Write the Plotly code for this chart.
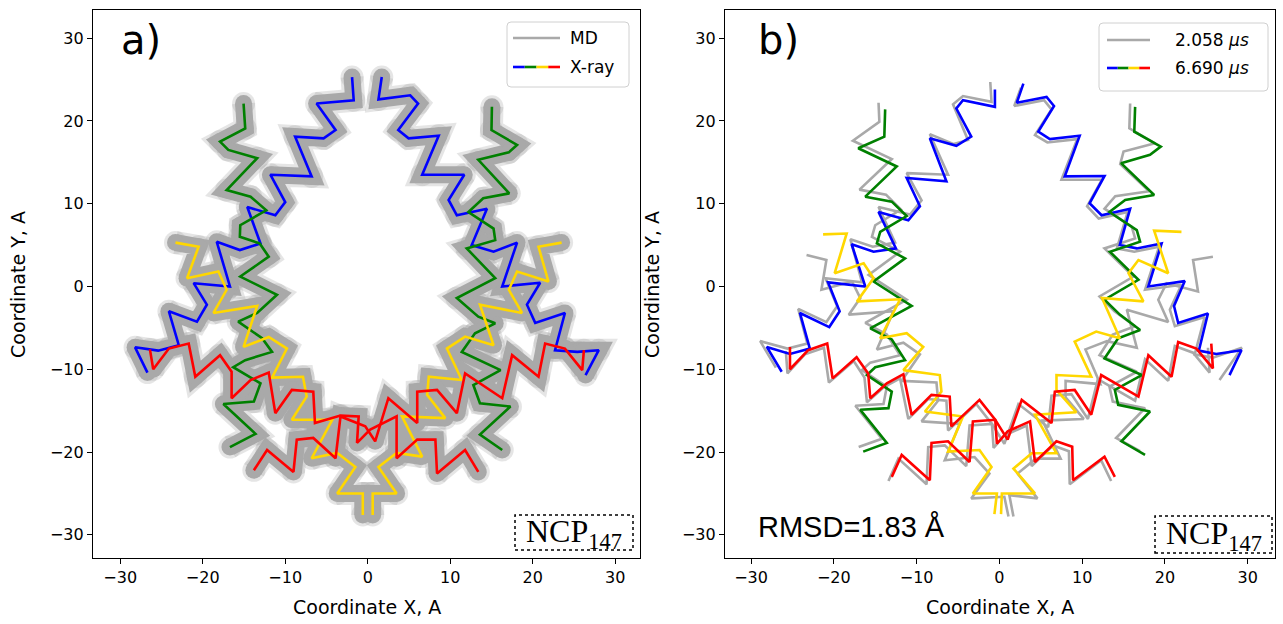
import plotly.graph_objects as go

# ---------------- panel a: X-ray structure (Angstrom) ----------------
xray_blue_L_x = [-1.9, -1.7, -6.2, -3.9, -5.35, -8.8, -6.8, -11.8, -10.0, -11.2, -14.6, -13.0, -15.5, -18.3, -16.7, -21.1, -19.5, -20.7, -24.1, -22.9, -25.4, -28.2, -26.7]
xray_blue_L_y = [25.3, 22.5, 22.1, 18.9, 17.9, 18.1, 13.3, 13.5, 10.2, 8.6, 9.6, 5.2, 4.4, 5.4, 0.0, 0.4, -2.2, -4.25, -3.0, -7.1, -7.75, -7.35, -10.4]
xray_blue_R_x = [1.7, 1.3, 5.15, 6.1, 3.7, 4.95, 8.6, 6.6, 11.7, 9.8, 10.8, 14.45, 12.6, 15.25, 18.1, 16.3, 20.9, 19.3, 20.3, 23.9, 22.7, 25.4, 28.0, 26.4]
xray_blue_R_y = [25.3, 22.6, 23.1, 22.1, 18.9, 17.9, 18.2, 13.5, 13.5, 10.45, 8.6, 9.4, 5.0, 4.2, 5.3, 0.0, 0.45, -2.2, -4.4, -3.2, -7.7, -7.9, -7.7, -10.7]
xray_green_L_x = [-15.05, -14.85, -17.9, -16.9, -13.4, -17.1, -14.2, -12.3, -15.45, -15.5, -13.1, -12.0, -15.45, -11.0, -13.4, -15.7, -12.8, -11.6, -14.85, -16.3, -13.0, -13.8, -17.5, -13.6, -16.7]
xray_green_L_y = [22.1, 19.1, 17.5, 16.5, 15.5, 11.65, 10.85, 9.2, 7.4, 6.0, 5.2, 3.6, 1.2, -1.0, -3.2, -4.25, -6.25, -7.9, -8.9, -9.75, -11.7, -13.9, -14.2, -17.8, -19.4]
xray_green_R_x = [15.05, 15.0, 18.1, 17.1, 13.4, 17.15, 14.0, 12.2, 15.25, 15.45, 12.0, 15.45, 10.8, 13.4, 15.45, 13.0, 11.4, 16.1, 12.8, 13.6, 17.3, 13.6, 16.3]
xray_green_R_y = [21.7, 18.9, 17.1, 16.2, 15.3, 11.25, 10.65, 9.0, 7.0, 5.6, 4.6, 1.0, -1.4, -3.65, -4.45, -5.65, -7.9, -10.1, -11.9, -14.1, -14.5, -17.9, -19.75]
xray_yellow_L_x = [-23.3, -20.5, -21.9, -18.1, -17.1, -18.7, -13.4, -15.05, -12.0, -9.8, -11.6, -7.85, -7.4, -9.2, -4.3, -6.8, -3.7, -1.5, -3.7, -0.6, -0.6]
xray_yellow_L_y = [5.3, 4.8, 1.0, 1.8, -0.4, -3.2, -2.35, -7.3, -6.1, -7.5, -11.0, -10.9, -13.3, -16.1, -16.1, -20.75, -20.1, -21.8, -25.0, -25.0, -27.6]
xray_yellow_R_x = [23.5, 20.7, 21.9, 18.1, 17.1, 18.7, 13.6, 15.25, 11.8, 9.6, 11.4, 7.4, 7.2, 9.4, 4.15, 6.6, 3.5, 1.3, 3.5, 0.6, 0.6]
xray_yellow_R_y = [5.3, 4.8, 0.6, 1.8, -0.4, -3.2, -2.2, -7.1, -6.05, -7.5, -11.3, -10.9, -13.1, -15.9, -15.7, -20.55, -20.1, -21.8, -25.0, -25.0, -27.6]
xray_red_1_x = [-26.4, -26.0, -24.1, -21.7, -20.9, -17.9, -16.5, -16.5, -14.2, -12.0, -11.2, -9.2, -6.6, -6.4, -3.3, -1.1, -1.3, 0.3, 3.5, 3.5, 6.0, 8.2, 8.4, 11.8, 13.4]
xray_red_1_y = [-7.6, -10.0, -7.5, -6.9, -10.9, -8.3, -10.3, -13.5, -11.3, -10.4, -15.3, -12.5, -12.7, -16.5, -15.6, -15.7, -18.9, -17.3, -15.7, -20.75, -18.5, -18.5, -22.6, -19.75, -22.4]
xray_red_2_x = [-13.8, -12.2, -9.0, -8.6, -6.6, -3.9, -3.3, -0.3, 0.9, 2.5, 6.0, 6.0, 8.4, 10.8, 11.8, 16.3, 17.5, 20.7, 21.5, 23.9, 26.0, 26.2]
xray_red_2_y = [-22.2, -19.75, -22.4, -18.5, -18.3, -20.75, -15.7, -16.9, -18.7, -13.5, -16.5, -12.7, -12.5, -15.3, -10.5, -13.5, -8.3, -10.9, -6.9, -7.5, -10.1, -7.7]

# ---------------- panel b: MD snapshot at 6.690 us (coloured) ----------------
md6_blue_L_x = [-0.54, -0.54, -4.4, -5.2, -3.4, -5.2, -8.4, -6.4, -11.2, -9.6, -11.0, -14.6, -12.5, -15.2, -17.85, -16.2, -20.7, -19.3, -20.55, -24.1, -22.9, -25.3, -28.1, -26.3]
md6_blue_L_y = [23.8, 21.7, 22.5, 21.5, 18.1, 17.0, 17.9, 12.7, 13.1, 9.7, 8.0, 9.0, 4.6, 4.2, 5.1, 0.0, 0.5, -3.0, -4.9, -3.2, -7.5, -8.15, -7.3, -10.3]
md6_blue_R_x = [2.9, 2.1, 5.7, 6.6, 4.7, 6.1, 9.7, 7.9, 12.7, 10.9, 12.35, 15.8, 14.55, 16.6, 19.6, 18.0, 22.4, 21.1, 21.6, 25.2, 24.1, 26.2, 29.25, 27.8]
md6_blue_R_y = [24.5, 22.2, 22.9, 21.8, 18.7, 17.8, 18.2, 13.3, 13.35, 10.05, 8.6, 9.4, 5.0, 4.6, 5.2, 0.0, 0.65, -2.35, -4.4, -3.25, -7.75, -8.15, -7.7, -10.7]
md6_green_L_x = [-13.8, -13.9, -17.05, -12.4, -16.2, -13.0, -11.2, -14.4, -14.8, -11.4, -15.2, -10.6, -15.6, -13.0, -11.4, -15.0, -16.0, -13.0, -13.4, -16.8, -13.6, -16.45]
md6_green_L_y = [21.4, 18.1, 16.7, 14.5, 10.85, 10.25, 8.5, 6.6, 5.2, 3.4, 0.6, -2.35, -5.05, -6.4, -8.9, -9.75, -10.7, -12.7, -14.7, -14.9, -18.9, -19.95]
md6_green_R_x = [16.4, 16.3, 19.5, 18.2, 14.7, 18.7, 15.2, 13.3, 16.6, 17.0, 13.35, 16.8, 12.7, 14.55, 17.0, 14.35, 12.7, 17.2, 13.95, 14.35, 18.2, 14.75, 17.6]
md6_green_R_y = [21.7, 18.7, 16.9, 15.9, 14.9, 11.05, 10.45, 9.0, 6.8, 5.4, 4.2, 0.8, -1.6, -3.4, -5.25, -6.25, -8.7, -10.7, -12.5, -14.3, -15.1, -18.7, -20.35]
md6_yellow_L_x = [-21.3, -18.45, -19.9, -16.4, -15.2, -17.2, -12.0, -14.4, -11.2, -9.2, -11.6, -7.2, -7.0, -9.0, -4.4, -6.2, -2.4, -0.95, -3.2, -0.3, -0.6]
md6_yellow_L_y = [6.3, 6.4, 1.6, 2.8, 1.0, -1.8, -1.55, -6.25, -5.65, -7.3, -10.1, -10.7, -12.7, -15.1, -15.7, -19.95, -19.75, -21.8, -25.0, -25.0, -27.5]
md6_yellow_R_x = [22.0, 18.7, 20.4, 16.8, 15.6, 17.4, 12.4, 14.55, 11.7, 9.1, 11.1, 6.9, 6.9, 9.3, 4.3, 6.9, 3.9, 1.7, 4.3, 0.3, 0.2]
md6_yellow_R_y = [6.6, 6.75, 1.6, 3.2, 1.6, -1.8, -1.4, -6.25, -5.45, -6.65, -10.9, -10.7, -12.5, -15.2, -15.5, -20.15, -20.15, -22.0, -25.0, -25.0, -27.5]
md6_red_1_x = [-25.3, -25.3, -23.1, -20.8, -20.15, -17.25, -15.85, -15.6, -13.6, -11.6, -10.6, -8.2, -6.0, -5.8, -2.4, -0.5, -0.3, 1.0, 3.7, 4.3, 6.9, 8.8, 8.9, 12.7, 13.95]
md6_red_1_y = [-7.3, -10.0, -7.7, -6.9, -11.1, -8.55, -10.5, -13.5, -11.7, -10.6, -15.5, -13.1, -13.3, -16.9, -13.7, -16.1, -19.0, -17.5, -16.3, -21.2, -18.7, -19.35, -23.4, -20.55, -23.0]
md6_red_2_x = [-13.0, -11.8, -8.4, -8.2, -6.2, -3.6, -3.2, -0.5, 1.0, 2.7, 6.3, 6.7, 9.1, 11.1, 12.3, 16.8, 18.0, 20.8, 21.6, 23.8, 25.8, 25.6]
md6_red_2_y = [-23.0, -20.35, -23.4, -18.9, -18.7, -21.2, -16.3, -16.1, -18.5, -13.7, -16.5, -12.7, -12.5, -15.5, -10.7, -13.3, -8.3, -10.9, -6.7, -7.5, -9.9, -6.9]

# ---------------- panel b: MD snapshot at 2.058 us (grey) ----------------
md2_blue_L_x = [-1.1, -0.95, -4.4, -5.6, -3.8, -5.5, -8.4, -6.2, -11.2, -9.4, -10.8, -14.6, -12.6, -15.3, -18.0, -16.6, -21.0, -19.6, -20.9, -24.3, -23.2, -25.6, -28.9, -27.0]
md2_blue_L_y = [24.7, 22.3, 23.0, 22.0, 17.7, 17.2, 18.4, 13.5, 13.7, 10.4, 8.7, 9.6, 5.3, 4.8, 5.7, 0.5, 1.0, -2.4, -4.3, -2.7, -6.9, -7.5, -6.6, -9.8]
md2_blue_R_x = [2.6, 1.8, 5.4, 6.3, 4.3, 5.8, 9.4, 7.5, 12.4, 10.6, 12.0, 15.5, 14.2, 16.3, 19.3, 17.6, 22.0, 20.6, 21.2, 24.8, 23.6, 25.8, 29.3, 26.6]
md2_blue_R_y = [24.0, 21.8, 22.5, 21.4, 18.3, 17.4, 17.8, 12.9, 12.9, 9.7, 8.2, 9.0, 4.6, 4.2, 4.8, -0.4, 0.2, -2.8, -4.8, -3.7, -8.2, -8.6, -7.4, -11.3]
md2_green_L_x = [-14.6, -14.5, -17.7, -13.0, -16.9, -13.7, -11.9, -15.0, -15.4, -12.0, -15.8, -11.2, -16.2, -13.6, -12.0, -15.6, -16.6, -13.6, -14.0, -17.4, -14.2, -17.0]
md2_green_L_y = [22.2, 19.9, 17.6, 15.4, 11.7, 11.1, 9.3, 7.4, 6.0, 4.2, 1.4, -1.6, -4.4, -5.8, -8.3, -9.2, -10.1, -12.1, -14.2, -14.4, -18.4, -19.4]
md2_green_R_x = [15.8, 15.7, 18.8, 15.0, 14.6, 18.1, 14.0, 12.7, 16.0, 16.4, 12.7, 16.2, 12.1, 13.9, 16.4, 13.7, 12.1, 16.6, 13.3, 13.7, 17.6, 14.1, 17.0]
md2_green_R_y = [22.1, 19.1, 17.3, 16.3, 14.8, 11.5, 10.9, 9.4, 7.2, 5.8, 4.6, 1.2, -1.2, -3.0, -4.8, -5.8, -8.3, -10.3, -12.1, -13.9, -14.7, -18.3, -19.9]
md2_yellow_L_x = [-23.3, -20.9, -21.5, -17.8, -16.8, -18.2, -12.8, -14.8, -11.6, -9.6, -11.8, -7.6, -7.4, -9.4, -4.8, -6.6, -3.0, -1.2, -3.4, 0.6, 1.1]
md2_yellow_L_y = [3.8, 3.2, -0.4, 0.6, -1.4, -3.4, -3.0, -7.6, -6.8, -8.2, -11.4, -11.6, -13.8, -16.3, -16.6, -21.0, -20.6, -22.6, -25.6, -25.4, -27.8]
md2_yellow_R_x = [25.8, 23.4, 24.0, 20.2, 19.2, 20.4, 15.4, 16.6, 13.0, 10.4, 12.2, 8.0, 8.0, 10.2, 5.2, 7.4, 4.4, 2.2, 4.6, 1.2, 1.7]
md2_yellow_R_y = [3.6, 3.2, -0.6, 0.4, -1.6, -4.3, -2.8, -7.4, -6.6, -7.6, -11.8, -11.4, -13.4, -16.0, -16.2, -20.8, -20.8, -22.6, -25.6, -25.2, -27.8]
md2_red_1_x = [-25.8, -25.6, -23.5, -21.2, -20.6, -17.6, -16.3, -16.0, -14.0, -12.0, -11.0, -8.6, -6.4, -6.2, -2.8, -0.9, -0.7, 0.6, 3.3, 3.9, 6.5, 8.4, 8.5, 12.3, 13.5]
md2_red_1_y = [-7.8, -10.5, -8.2, -7.4, -11.6, -9.0, -11.0, -14.0, -12.2, -11.1, -16.0, -13.6, -13.8, -17.4, -14.2, -16.6, -19.5, -18.0, -16.8, -21.7, -19.2, -19.9, -23.9, -21.0, -23.5]
md2_red_2_x = [-13.4, -12.2, -8.8, -8.6, -6.6, -4.0, -3.6, -0.9, 0.6, 2.3, 5.9, 6.3, 8.7, 10.7, 11.9, 16.4, 17.6, 20.4, 21.2, 23.4, 25.4, 25.2]
md2_red_2_y = [-23.5, -20.8, -23.9, -19.4, -19.2, -21.7, -16.8, -16.6, -19.0, -14.2, -17.0, -13.2, -13.0, -16.0, -11.2, -13.8, -8.8, -11.4, -7.2, -8.0, -10.4, -7.4]

# ---------------- colours / styles ----------------
BLUE, GREEN, YELLOW, RED = "#0000ff", "#008000", "#ffd700", "#ff0000"
GRAY = "#a9a9a9"
W, H = 1283, 624

xray_paths = [
    (xray_blue_L_x, xray_blue_L_y, BLUE), (xray_blue_R_x, xray_blue_R_y, BLUE),
    (xray_green_L_x, xray_green_L_y, GREEN), (xray_green_R_x, xray_green_R_y, GREEN),
    (xray_yellow_L_x, xray_yellow_L_y, YELLOW), (xray_yellow_R_x, xray_yellow_R_y, YELLOW),
    (xray_red_1_x, xray_red_1_y, RED), (xray_red_2_x, xray_red_2_y, RED),
]
md6_paths = [
    (md6_blue_L_x, md6_blue_L_y, BLUE), (md6_blue_R_x, md6_blue_R_y, BLUE),
    (md6_green_L_x, md6_green_L_y, GREEN), (md6_green_R_x, md6_green_R_y, GREEN),
    (md6_yellow_L_x, md6_yellow_L_y, YELLOW), (md6_yellow_R_x, md6_yellow_R_y, YELLOW),
    (md6_red_1_x, md6_red_1_y, RED), (md6_red_2_x, md6_red_2_y, RED),
]
md2_paths = [
    (md2_blue_L_x, md2_blue_L_y), (md2_blue_R_x, md2_blue_R_y),
    (md2_green_L_x, md2_green_L_y), (md2_green_R_x, md2_green_R_y),
    (md2_yellow_L_x, md2_yellow_L_y), (md2_yellow_R_x, md2_yellow_R_y),
    (md2_red_1_x, md2_red_1_y), (md2_red_2_x, md2_red_2_y),
]

fig = go.Figure()

# panel a: MD envelope (thick grey band)
for xs, ys, c in xray_paths:
    fig.add_trace(go.Scatter(x=xs, y=ys, mode="lines+markers", xaxis="x", yaxis="y",
                             line=dict(color="rgba(169,169,169,0.3)", width=23),
                             marker=dict(size=23, color="rgba(169,169,169,0.3)", line=dict(width=0)),
                             hoverinfo="skip", showlegend=False))
for xs, ys, c in xray_paths:
    fig.add_trace(go.Scatter(x=xs, y=ys, mode="lines+markers", xaxis="x", yaxis="y",
                             line=dict(color=GRAY, width=17),
                             marker=dict(size=17, color=GRAY, line=dict(width=0)),
                             hoverinfo="skip", showlegend=False))
for xs, ys, c in xray_paths:
    fig.add_trace(go.Scatter(x=xs, y=ys, mode="lines", xaxis="x", yaxis="y",
                             line=dict(color=c, width=2.6), hoverinfo="skip", showlegend=False))

# panel b
for xs, ys in md2_paths:
    fig.add_trace(go.Scatter(x=xs, y=ys, mode="lines", xaxis="x2", yaxis="y2",
                             line=dict(color=GRAY, width=2.6), hoverinfo="skip", showlegend=False))
for xs, ys, c in md6_paths:
    fig.add_trace(go.Scatter(x=xs, y=ys, mode="lines", xaxis="x2", yaxis="y2",
                             line=dict(color=c, width=2.6), hoverinfo="skip", showlegend=False))

TICKS = [-30, -20, -10, 0, 10, 20, 30]
ax = dict(showline=True, linecolor="black", linewidth=1.2, mirror=True, ticks="outside",
          ticklen=5, tickwidth=1.2, tickcolor="black", showgrid=False, zeroline=False,
          tickvals=TICKS, tickfont=dict(family="DejaVu Sans", size=16, color="black"))

def fx(p):
    return p / W

def fy(p):
    return 1 - p / H

fig.update_layout(
    width=W, height=H, margin=dict(l=0, r=0, t=0, b=0),
    plot_bgcolor="white", paper_bgcolor="white", showlegend=False,
    xaxis=dict(domain=[fx(93), fx(640)], range=[-33.3, 33.0], anchor="y", **ax),
    yaxis=dict(domain=[fy(558), fy(10)], range=[-32.8, 33.4], anchor="x", **ax),
    xaxis2=dict(domain=[fx(725), fx(1275)], range=[-33.15, 33.3], anchor="y2", **ax),
    yaxis2=dict(domain=[fy(558), fy(10)], range=[-32.8, 33.4], anchor="x2", **ax),
)

shapes = []
annots = []

def rrect(x0, y0, x1, y1, r=4):
    pts = f"M {fx(x0+r)},{fy(y0)} L {fx(x1-r)},{fy(y0)} Q {fx(x1)},{fy(y0)} {fx(x1)},{fy(y0+r)} " \
          f"L {fx(x1)},{fy(y1-r)} Q {fx(x1)},{fy(y1)} {fx(x1-r)},{fy(y1)} " \
          f"L {fx(x0+r)},{fy(y1)} Q {fx(x0)},{fy(y1)} {fx(x0)},{fy(y1-r)} " \
          f"L {fx(x0)},{fy(y0+r)} Q {fx(x0)},{fy(y0)} {fx(x0+r)},{fy(y0)} Z"
    return dict(type="path", path=pts, xref="paper", yref="paper",
                line=dict(color="#d0d0d0", width=1), fillcolor="rgba(255,255,255,0.8)", layer="above")

def hline(x0, x1, y, color, width=2.6):
    return dict(type="line", xref="paper", yref="paper", x0=fx(x0), x1=fx(x1), y0=fy(y), y1=fy(y),
                line=dict(color=color, width=width), layer="above")

def text(x, y, s, size, xanchor="left", family="DejaVu Sans", color="black"):
    return dict(x=fx(x), y=fy(y), xref="paper", yref="paper", text=s, showarrow=False,
                xanchor=xanchor, yanchor="middle", font=dict(family=family, size=size, color=color))

# legend a
shapes.append(rrect(507, 22, 629, 87))
shapes.append(hline(513, 560, 38, GRAY))
seg = [BLUE, GREEN, YELLOW, RED]
for i, c in enumerate(seg):
    shapes.append(hline(513 + i * 11.75, 513 + (i + 1) * 11.75, 67, c))
annots.append(text(568, 38, "MD", 17))
annots.append(text(568, 67, "X-ray", 17))

# legend b
shapes.append(rrect(1099, 23, 1268, 91))
shapes.append(hline(1107, 1150, 40, GRAY))
for i, c in enumerate(seg):
    shapes.append(hline(1107 + i * 10.75, 1107 + (i + 1) * 10.75, 68, c))
annots.append(text(1173, 40, "2.058 <i>µs</i>", 17))
annots.append(text(1173, 68, "6.690 <i>µs</i>", 17))

# NCP boxes
for (x0, y0, x1, y1) in [(515, 515, 633, 550), (1155, 516, 1272, 553)]:
    shapes.append(dict(type="rect", xref="paper", yref="paper", x0=fx(x0), x1=fx(x1), y0=fy(y1), y1=fy(y0),
                       line=dict(color="black", width=1.5, dash="dot"), layer="above"))
    annots.append(text((x0 + x1) / 2, (y0 + y1) / 2 + 1, "NCP<sub>147</sub>", 32, xanchor="center",
                       family="Liberation Serif"))

# panel labels
annots.append(text(119, 40, "a)", 40))
annots.append(text(756, 40, "b)", 40))
# RMSD
annots.append(text(756, 527, "RMSD=1.83 Å", 29, family="Liberation Sans"))
# axis titles
annots.append(text(367, 607, "Coordinate X, A", 19, xanchor="center"))
annots.append(text(1000, 607, "Coordinate X, A", 19, xanchor="center"))
for xc in (18, 652):
    a = text(xc, 285, "Coordinate Y, A", 19, xanchor="center")
    a["textangle"] = -90
    annots.append(a)

fig.update_layout(shapes=shapes, annotations=annots)
fig.write_html("out.html")
